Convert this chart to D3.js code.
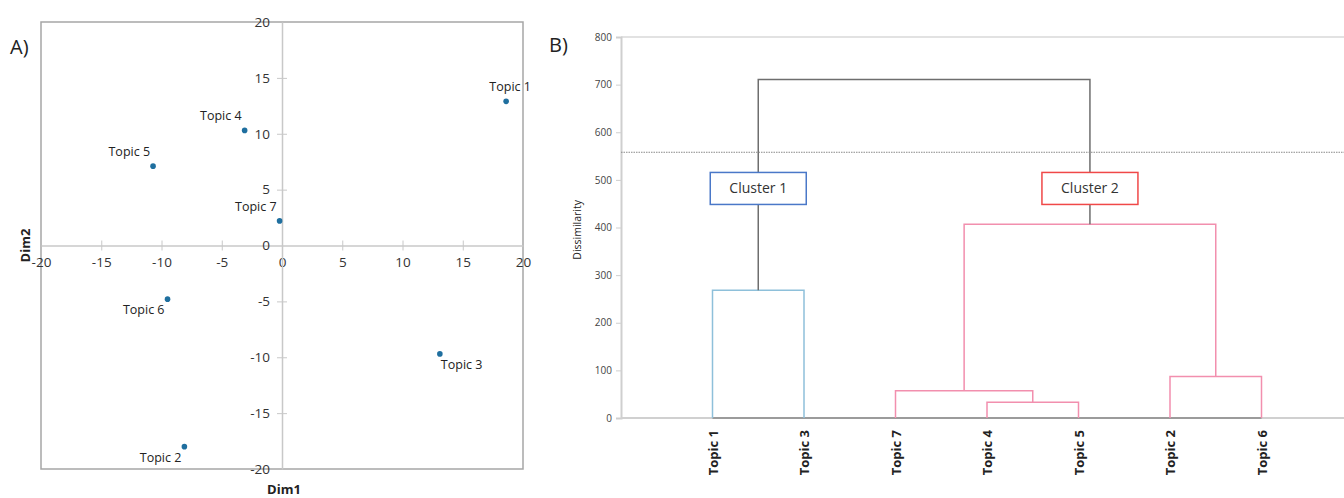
<!DOCTYPE html>
<html>
<head>
<meta charset="utf-8">
<script src="https://cdn.jsdelivr.net/npm/d3@7"></script>
<style>
  body { margin: 0; background: #fff; }
  svg { display: block; font-family: "Open Sans", sans-serif; }
</style>
</head>
<body>
<script>
// A) MDS map of topics
const topics = ["Topic 1", "Topic 2", "Topic 3", "Topic 4", "Topic 5", "Topic 6", "Topic 7"]
const dim1 = [18.6, -8.1, 13.1, -3.1, -10.7, -9.5, -0.2]
const dim2 = [12.9, -18.0, -9.7, 10.3, 7.1, -4.8, 2.2]
// where the label sits relative to its dot
const labelPos = ["above", "belowLeft", "belowRight", "aboveLeft", "aboveLeft", "belowLeft", "aboveLeft"]
const dimTicks = [-20, -15, -10, -5, 0, 5, 10, 15, 20]

// B) dendrogram
const leaves = ["Topic 1", "Topic 3", "Topic 7", "Topic 4", "Topic 5", "Topic 2", "Topic 6"]
const mergeIds = ["c13", "c45", "c745", "c26", "c2", "root"]
const mergeLeft = ["Topic 1", "Topic 4", "Topic 7", "Topic 2", "c745", "c13"]
const mergeRight = ["Topic 3", "Topic 5", "c45", "Topic 6", "c26", "c2"]
const mergeHeight = [268, 33, 57, 87, 407, 711]
const mergeGroup = ["c1", "c2", "c2", "c2", "c2", "root"]
const cutHeight = 558
const dissTicks = [0, 100, 200, 300, 400, 500, 600, 700, 800]
const clusterNames = ["Cluster 1", "Cluster 2"]
const clusterNodes = ["c13", "c2"]
const clusterLabelAt = 482

const width = 1344, height = 498
const svg = d3.select("body").append("svg").attr("width", width).attr("height", height)
const plain = d => String(d)   // hyphen minus like the original, not U+2212

// ---------------- panel A ----------------
const a = {left: 41, right: 523, top: 22, bottom: 469}
const x = d3.scaleLinear().domain([-20, 20]).range([a.left, a.right])
const y = d3.scaleLinear().domain([-20, 20]).range([a.bottom, a.top])

svg.append("text").attr("x", 10).attr("y", 54).attr("font-size", 20).attr("fill", "#222").text("A)")

const gA = svg.append("g")
gA.append("rect")
    .attr("x", a.left).attr("y", a.top)
    .attr("width", a.right - a.left).attr("height", a.bottom - a.top)
    .attr("fill", "none").attr("stroke", "#a6a6a6").attr("stroke-width", 1.5)

// axes through the origin
gA.append("g")
    .attr("transform", `translate(0,${y(0)})`)
    .call(d3.axisBottom(x).tickValues(dimTicks).tickFormat(plain).tickSize(0).tickPadding(12))
    .call(g => g.select(".domain").attr("stroke", "#c8c8c8").attr("stroke-width", 1.5))
    .call(g => g.selectAll("text").attr("font-size", 13.5).attr("fill", "#333").attr("font-family", "Open Sans"))
    .call(g => g.selectAll(".tick").filter(d => d !== 0 && Math.abs(d) !== 20).append("line")
        .attr("y1", -5).attr("y2", 5).attr("stroke", "#c8c8c8"))

gA.append("g")
    .attr("transform", `translate(${x(0)},0)`)
    .call(d3.axisLeft(y).tickValues(dimTicks).tickFormat(plain).tickSize(0).tickPadding(12))
    .call(g => g.select(".domain").attr("stroke", "#c8c8c8").attr("stroke-width", 1.5))
    .call(g => g.selectAll("text").attr("font-size", 13.5).attr("fill", "#333").attr("font-family", "Open Sans"))
    .call(g => g.selectAll(".tick").filter(d => d !== 0 && Math.abs(d) !== 20).append("line")
        .attr("x1", -5).attr("x2", 5).attr("stroke", "#c8c8c8"))

gA.append("text")
    .attr("transform", `translate(30,${y(0)}) rotate(-90)`)
    .attr("text-anchor", "middle").attr("font-size", 13).attr("font-weight", "bold").attr("fill", "#222")
    .text("Dim2")
gA.append("text")
    .attr("x", x(0) + 2).attr("y", 494)
    .attr("text-anchor", "middle").attr("font-size", 13).attr("font-weight", "bold").attr("fill", "#222")
    .text("Dim1")

const pts = topics.map((t, i) => ({name: t, d1: dim1[i], d2: dim2[i], pos: labelPos[i]}))
const offsets = {
  above: {dx: 4, dy: -10, anchor: "middle"},
  aboveLeft: {dx: -3, dy: -10, anchor: "end"},
  belowLeft: {dx: -3, dy: 15, anchor: "end"},
  belowRight: {dx: 1, dy: 15, anchor: "start"}
}
const pt = gA.selectAll("g.pt").data(pts).join("g").attr("class", "pt")
    .attr("transform", d => `translate(${x(d.d1)},${y(d.d2)})`)
pt.append("circle").attr("r", 2.8).attr("fill", "#1f6f9f")
pt.append("text")
    .attr("x", d => offsets[d.pos].dx).attr("y", d => offsets[d.pos].dy)
    .attr("text-anchor", d => offsets[d.pos].anchor)
    .attr("font-size", 12.5).attr("fill", "#222")
    .text(d => d.name)

// ---------------- panel B ----------------
const b = {left: 621, right: 1353, top: 37, bottom: 418}
const xb = d3.scalePoint().domain(leaves).range([b.left, b.right]).padding(1)
const yb = d3.scaleLinear().domain([0, 800]).range([b.bottom, b.top])
const colors = {c1: "#8ec0da", c2: "#f28fae", root: "#6e6e6e"}

svg.append("text").attr("x", 549).attr("y", 52).attr("font-size", 20).attr("fill", "#222").text("B)")

const gB = svg.append("g")
gB.append("line")
    .attr("x1", b.left).attr("x2", width).attr("y1", yb(800)).attr("y2", yb(800))
    .attr("stroke", "#e2e2e2").attr("stroke-width", 2)

gB.append("g")
    .attr("transform", `translate(${b.left},0)`)
    .call(d3.axisLeft(yb).tickValues(dissTicks).tickSize(5).tickPadding(4))
    .call(g => g.select(".domain").attr("stroke", "#cfcfcf").attr("stroke-width", 2))
    .call(g => g.selectAll(".tick line").attr("stroke", "#cfcfcf"))
    .call(g => g.selectAll("text").attr("font-size", 10).attr("fill", "#444").attr("font-family", "Open Sans"))

gB.append("text")
    .attr("transform", `translate(581,${yb(395)}) rotate(-90)`)
    .attr("text-anchor", "middle").attr("font-size", 10.5).attr("fill", "#222")
    .text("Dissimilarity")

// baseline
gB.append("line")
    .attr("x1", b.left).attr("x2", width).attr("y1", yb(0)).attr("y2", yb(0))
    .attr("stroke", "#d0d0d0").attr("stroke-width", 2)
gB.append("line")
    .attr("x1", xb(leaves[0])).attr("x2", xb(leaves[leaves.length - 1])).attr("y1", yb(0)).attr("y2", yb(0))
    .attr("stroke", "#8a8a8a").attr("stroke-width", 1.5)

// node positions
const nodes = new Map(leaves.map(l => [l, {x: xb(l), h: 0}]))
const links = mergeIds.map((id, i) => {
  const l = nodes.get(mergeLeft[i]), r = nodes.get(mergeRight[i])
  const n = {x: (l.x + r.x) / 2, h: mergeHeight[i]}
  nodes.set(id, n)
  return {l, r, h: n.h, group: mergeGroup[i]}
})

gB.append("g").attr("fill", "none").attr("stroke-width", 1.5)
  .selectAll("path").data(links).join("path")
    .attr("stroke", d => colors[d.group])
    .attr("d", d => `M${d.l.x},${yb(d.l.h)}V${yb(d.h)}H${d.r.x}V${yb(d.r.h)}`)

// truncation line
gB.append("line")
    .attr("x1", b.left).attr("x2", width).attr("y1", yb(cutHeight)).attr("y2", yb(cutHeight))
    .attr("stroke", "#888").attr("stroke-width", 1).attr("stroke-dasharray", "1.5,1")

// cluster tags
const tagColors = ["#4a78c8", "#f04848"]
const tag = gB.selectAll("g.tag").data(clusterNames).join("g").attr("class", "tag")
    .attr("transform", (d, i) => `translate(${nodes.get(clusterNodes[i]).x},${yb(clusterLabelAt)})`)
tag.append("rect")
    .attr("x", -48).attr("y", -16).attr("width", 96).attr("height", 32)
    .attr("fill", "#fff").attr("stroke", (d, i) => tagColors[i]).attr("stroke-width", 1.5)
tag.append("text")
    .attr("text-anchor", "middle").attr("dy", "0.35em")
    .attr("font-size", 14).attr("fill", "#333")
    .text(d => d)

// leaf labels
gB.selectAll("text.leaf").data(leaves).join("text").attr("class", "leaf")
    .attr("transform", d => `translate(${xb(d) + 5},${yb(0) + 12}) rotate(-90)`)
    .attr("text-anchor", "end").attr("font-size", 13).attr("font-weight", "bold").attr("fill", "#222")
    .text(d => d)
</script>
</body>
</html>
